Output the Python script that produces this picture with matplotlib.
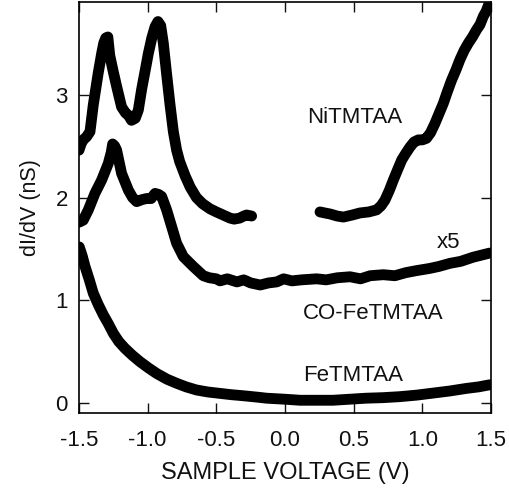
import matplotlib
matplotlib.use("Agg")
import matplotlib.pyplot as plt

plt.rcParams['font.family'] = ['Liberation Sans', 'DejaVu Sans']

# NiTMTAA, negative-bias branch
ni_left_v = [-1.50, -1.485, -1.47, -1.445, -1.42, -1.396, -1.36, -1.335, -1.32, -1.305, -1.29,
             -1.276, -1.25, -1.226, -1.19, -1.16, -1.14, -1.118, -1.09, -1.068, -1.044,
             -1.02, -0.995, -0.97, -0.946, -0.925, -0.905, -0.886, -0.862, -0.837, -0.813,
             -0.789, -0.767, -0.727, -0.69, -0.645, -0.60, -0.546, -0.50, -0.45, -0.40,
             -0.37, -0.33, -0.30, -0.28, -0.243]
ni_left_y = [2.46, 2.52, 2.56, 2.59, 2.64, 2.90, 3.21, 3.40, 3.50, 3.55, 3.56,
             3.38, 3.22, 3.08, 2.88, 2.82, 2.80, 2.75, 2.77, 2.85, 3.05,
             3.22, 3.40, 3.55, 3.66, 3.71, 3.67, 3.50, 3.20, 2.90, 2.64,
             2.46, 2.35, 2.21, 2.10, 2.00, 1.94, 1.89, 1.86, 1.83, 1.80,
             1.79, 1.80, 1.82, 1.83, 1.82]
# NiTMTAA, positive-bias branch
ni_right_v = [0.255, 0.29, 0.328, 0.38, 0.425, 0.49, 0.546, 0.61, 0.667, 0.70, 0.728,
              0.76, 0.789, 0.82, 0.85, 0.88, 0.91, 0.94, 0.971, 1.00, 1.03, 1.06,
              1.092, 1.12, 1.153, 1.18, 1.213, 1.245, 1.274, 1.305, 1.335, 1.365,
              1.395, 1.42, 1.444, 1.465, 1.485]
ni_right_y = [1.86, 1.85, 1.84, 1.82, 1.81, 1.83, 1.85, 1.86, 1.88, 1.92, 1.975,
              2.07, 2.17, 2.27, 2.365, 2.43, 2.49, 2.54, 2.56, 2.56, 2.575, 2.63,
              2.72, 2.81, 2.915, 3.02, 3.14, 3.24, 3.34, 3.43, 3.50, 3.56,
              3.63, 3.68, 3.76, 3.81, 3.88]

# CO-FeTMTAA (x5)
co_v = [-1.50, -1.469, -1.432, -1.384, -1.335, -1.287, -1.265, -1.255, -1.24, -1.226,
        -1.19, -1.14, -1.11, -1.08, -1.04, -1.008, -0.975, -0.946, -0.92, -0.898, -0.862,
        -0.826, -0.789, -0.74, -0.668, -0.595, -0.55, -0.50, -0.473, -0.42, -0.35,
        -0.30, -0.25, -0.18, -0.12, -0.06, -0.01, 0.05, 0.12, 0.23, 0.30, 0.38,
        0.473, 0.55, 0.62, 0.716, 0.80, 0.88, 0.959, 1.05, 1.12, 1.20, 1.28, 1.37,
        1.43, 1.49]
co_y = [1.76, 1.78, 1.88, 2.04, 2.17, 2.33, 2.44, 2.52, 2.50, 2.46,
        2.235, 2.07, 2.00, 1.96, 1.98, 1.99, 1.99, 2.04, 2.03, 2.01, 1.88,
        1.72, 1.555, 1.425, 1.33, 1.24, 1.22, 1.21, 1.19, 1.21, 1.18,
        1.20, 1.17, 1.15, 1.17, 1.18, 1.21, 1.19, 1.20, 1.21, 1.20, 1.22,
        1.23, 1.21, 1.24, 1.25, 1.24, 1.27, 1.29, 1.31, 1.33, 1.36, 1.38, 1.42,
        1.44, 1.46]

# FeTMTAA
fe_v = [-1.498, -1.476, -1.456, -1.425, -1.396, -1.36, -1.323, -1.285, -1.25, -1.21,
        -1.166, -1.11, -1.056, -0.995, -0.934, -0.86, -0.789, -0.72, -0.645, -0.56,
        -0.475, -0.39, -0.305, -0.20, -0.134, 0.0, 0.11, 0.23, 0.35, 0.47, 0.59,
        0.71, 0.837, 0.96, 1.08, 1.20, 1.32, 1.41, 1.49]
fe_y = [1.52, 1.43, 1.33, 1.20, 1.07, 0.96, 0.86, 0.77, 0.68, 0.60,
        0.535, 0.465, 0.405, 0.345, 0.29, 0.235, 0.195, 0.16, 0.13, 0.11,
        0.097, 0.084, 0.074, 0.06, 0.05, 0.04, 0.03, 0.03, 0.03, 0.04, 0.05,
        0.055, 0.065, 0.08, 0.10, 0.12, 0.145, 0.16, 0.18]

labels = ["NiTMTAA", "x5", "CO-FeTMTAA", "FeTMTAA"]
label_x = [0.16, 1.107, 0.131, 0.131]
label_y = [2.78, 1.56, 0.877, 0.275]

xticks = [-1.5, -1.0, -0.5, 0.0, 0.5, 1.0, 1.5]
xticklabels = ["-1.5", "-1.0", "-0.5", "0.0", "0.5", "1.0", "1.5"]
yticks = [0, 1, 2, 3]

fig = plt.figure(figsize=(5.09, 4.96), dpi=100)
ax = fig.add_axes([0.1552, 0.1673, 0.8094, 0.8287])

kw = dict(color='black', lw=7.8, solid_capstyle='round', solid_joinstyle='round')
ax.plot(ni_left_v, ni_left_y, **kw)
ax.plot(ni_right_v, ni_right_y, **kw)
ax.plot(co_v, co_y, **kw)
ax.plot(fe_v, fe_y, **kw)

for t, x, y in zip(labels, label_x, label_y):
    ax.text(x, y, t, fontsize=16, ha='left', va='center', color='#111111')

ax.set_xlim(-1.5, 1.5)
ax.set_ylim(-0.094, 3.90)
ax.set_xticks(xticks)
ax.set_xticklabels(xticklabels)
ax.set_yticks(yticks)
ax.tick_params(direction='in', length=7, width=1, top=True, right=True,
               labelsize=16, colors='#111111')
ax.tick_params(axis='x', pad=12)
ax.tick_params(axis='y', pad=8)
for s in ax.spines.values():
    s.set_linewidth(1.2)
ax.set_xlabel("SAMPLE VOLTAGE (V)", fontsize=17, labelpad=8, color='#111111')
ax.set_ylabel("dI/dV (nS)", fontsize=15.5, labelpad=10, color='#111111')

fig.savefig("out.png", dpi=100)
